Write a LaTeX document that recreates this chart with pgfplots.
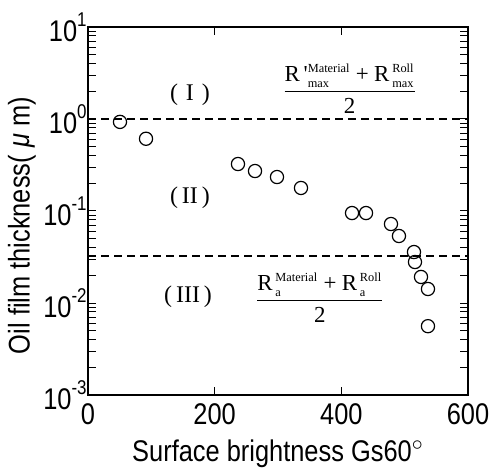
\documentclass[border=0pt]{standalone}
\usepackage{amsmath}
\usepackage{fontspec}
\setmainfont{Liberation Sans}[FakeStretch=0.85]
\newfontfamily\tms{Liberation Serif}
\usepackage{pgfplots}
\pgfplotsset{compat=1.18}

\newcommand{\sm}[1]{\text{\fontsize{6.2}{6.2}\selectfont #1}}

\begin{document}
\begin{tikzpicture}
\begin{axis}[
  scale only axis, width=190bp, height=184bp,
  ymode=log, xmin=0, xmax=600, ymin=1e-3, ymax=1e1,
  xtick={0,200,400,600}, xticklabels={0,200,400,600},
  log number format basis/.code 2 args={10\raisebox{0.5em}{\fontsize{10}{10}\selectfont\pgfmathprintnumber[assume math mode=true]{#2}}},
  tick align=inside, major tick length=4bp, minor tick length=4bp,
  every tick/.style={black, line width=0.5bp},
  axis line style={line width=1bp},
  tick label style={font=\fontsize{15}{16}\selectfont},
  xticklabel style={anchor=north, inner sep=0pt, yshift=-4bp},
  yticklabel style={anchor=east, inner sep=0.5bp},
  xlabel={Surface brightness Gs60$^{\circ}$},
  ylabel={Oil film thickness( \textit{μ} m)},
  label style={font=\fontsize{15}{16}\selectfont},
  xlabel style={at={(axis description cs:0.5,0)}, anchor=base, yshift=-33bp},
  ylabel style={at={(axis description cs:-0.174,0.46)}, anchor=center},
  clip=false,
]
\addplot[black, line width=1.1bp, dash pattern=on 4bp off 2.5bp] coordinates {(0,1.0) (600,1.0)};
\addplot[black, line width=1.1bp, dash pattern=on 4bp off 2.5bp] coordinates {(0,0.0324) (600,0.0324)};
\addplot[only marks, mark=o, mark size=3.3bp, mark options={line width=0.6bp, black}] coordinates {
  (50.5,0.93) (91.6,0.61) (236.8,0.324) (263.7,0.272) (298.4,0.234) (336.3,0.178)
  (416.9,0.095) (439,0.095) (478.4,0.0722) (491,0.0535) (514.7,0.0358) (516.3,0.0279)
  (525.8,0.0192) (536.8,0.0142) (536.8,0.0056)
};
\node[font=\tms\fontsize{12}{13}\selectfont] at (axis cs:161,1.82) {(\,\,I\,\,)};
\node[font=\tms\fontsize{12}{13}\selectfont] at (axis cs:161,0.138) {(\,II\,)};
\node[font=\tms\fontsize{12}{13}\selectfont] at (axis cs:158,0.0116) {(\,III\,)};
\node[font=\tms\fontsize{11.5}{12}\selectfont] at (axis cs:413,2.12)
  {$\dfrac{\text{R\,'}^{\sm{Material}}_{\sm{max}}\mathbin{\text{+}}\text{R}^{\,\sm{Roll}}_{\,\sm{max}}}{\text{2}}$};
\node[font=\tms\fontsize{11.5}{12}\selectfont] at (axis cs:366,0.01133)
  {$\dfrac{\text{R}^{\,\sm{Material}}_{\,\sm{a}}\mathbin{\text{+}}\text{R}^{\,\sm{Roll}}_{\,\sm{a}}}{\text{2}}$};
\end{axis}
\pgfresetboundingbox
\path[use as bounding box] (-44bp,-40bp) rectangle (201.5bp,197.5bp);
\end{tikzpicture}
\end{document}
